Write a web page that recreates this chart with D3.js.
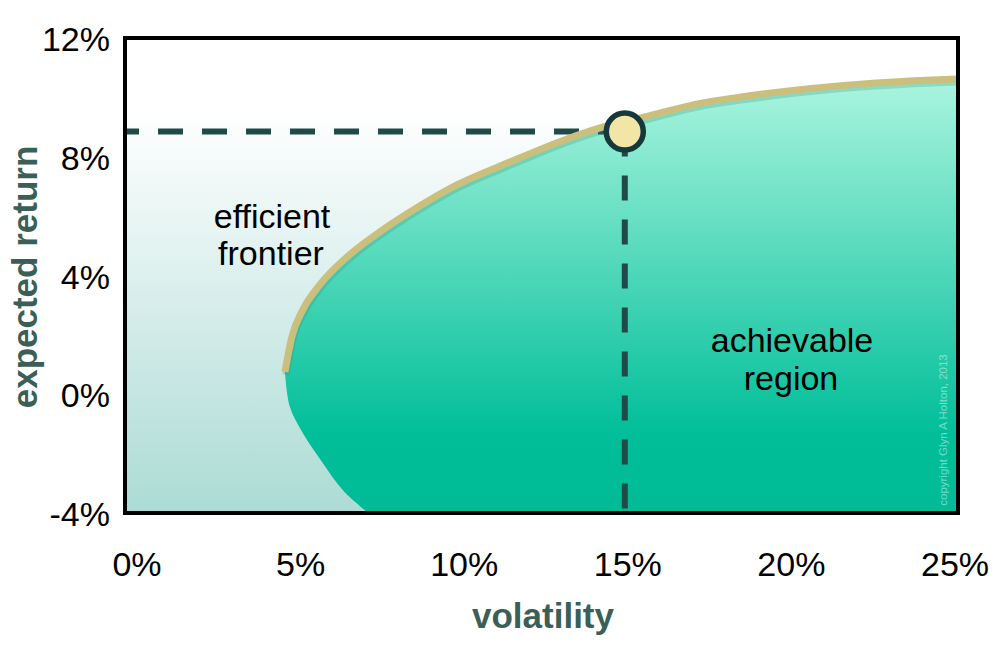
<!DOCTYPE html>
<html>
<head>
<meta charset="utf-8">
<script src="https://cdn.jsdelivr.net/npm/d3@7"></script>
<style>
  body { margin: 0; background: #fff; }
  text { font-family: "Liberation Sans", Arial, sans-serif; }
</style>
</head>
<body>
<div id="chart"></div>
<script>
var svgWidth = 1000;
var svgHeight = 665;

var margin = { top: 38, right: 42, bottom: 152, left: 125 };
var width = svgWidth - margin.left - margin.right;
var height = svgHeight - margin.top - margin.bottom;

// efficient frontier (volatility %, expected return %)
var frontierVol = [4.8, 5.01, 5.34, 5.85, 6.66, 7.65, 8.76, 9.96, 11.55, 13.27, 14.26, 15.6, 17.26, 18.4, 22.45, 25.0];
var frontierRet = [0.75, 1.94, 2.85, 3.69, 4.62, 5.47, 6.28, 7.05, 7.82, 8.6, 8.97, 9.34, 9.8, 10.0, 10.48, 10.62];

// lower edge of the achievable region
var lowerVol = [4.8, 4.95, 5.34, 5.94, 6.54, 7.3];
var lowerRet = [0.75, -0.43, -1.31, -2.32, -3.23, -4.0];

// chosen portfolio
var pointVol = 15;
var pointRet = 8.85;

var xTicks = [0, 5, 10, 15, 20, 25];
var yTicks = [-4, 0, 4, 8, 12];

var svg = d3.select("#chart")
    .append("svg")
    .attr("width", svgWidth)
    .attr("height", svgHeight);

var defs = svg.append("defs");

var bgGrad = defs.append("linearGradient")
    .attr("id", "bgGrad")
    .attr("x1", 0).attr("y1", 0).attr("x2", 0).attr("y2", 1);
bgGrad.append("stop").attr("offset", "0%").attr("stop-color", "#ffffff");
bgGrad.append("stop").attr("offset", "15%").attr("stop-color", "#ffffff");
bgGrad.append("stop").attr("offset", "100%").attr("stop-color", "#acdbd5");

var regionGrad = defs.append("linearGradient")
    .attr("id", "regionGrad")
    .attr("gradientUnits", "userSpaceOnUse")
    .attr("x1", 0).attr("y1", 40).attr("x2", 0).attr("y2", height);
regionGrad.append("stop").attr("offset", "0%").attr("stop-color", "#abf5df");
regionGrad.append("stop").attr("offset", "82%").attr("stop-color", "#00be99");
regionGrad.append("stop").attr("offset", "100%").attr("stop-color", "#00bb96");

var chartGroup = svg.append("g")
    .attr("transform", `translate(${margin.left}, ${margin.top})`);

var x = d3.scaleLinear().domain([0, 25]).range([0, width]);
var y = d3.scaleLinear().domain([-4, 12]).range([height, 0]);
// the tick labels sit slightly off their ticks in the original
var xLabel = d3.scaleLinear().domain([0, 25]).range([12, width - 3]);

// background
chartGroup.append("rect")
    .attr("width", width)
    .attr("height", height)
    .attr("fill", "url(#bgGrad)");

// achievable region: frontier, right edge, bottom, lower edge back up
var frontier = frontierVol.map((v, i) => [v, frontierRet[i]]);
var lower = lowerVol.map((v, i) => [v, lowerRet[i]]);

var line = d3.line()
    .x(d => x(d[0]))
    .y(d => y(d[1]))
    .curve(d3.curveMonotoneX);

var lowerLine = d3.line()
    .x(d => x(d[0]))
    .y(d => y(d[1]))
    .curve(d3.curveCatmullRom);

var regionPath = line(frontier) +
    `L${x(25)},${y(-4)}` +
    lowerLine(lower.slice().reverse()).replace(/^M/, "L") + "Z";

chartGroup.append("path")
    .attr("d", regionPath)
    .attr("fill", "url(#regionGrad)");

// dashed guides to the chosen point
chartGroup.append("line")
    .attr("x1", x(0)).attr("x2", x(pointVol))
    .attr("y1", y(pointRet)).attr("y2", y(pointRet))
    .attr("stroke", "#1f4a48")
    .attr("stroke-width", 6)
    .attr("stroke-dasharray", "25,19")
    .attr("stroke-dashoffset", 11);

chartGroup.append("line")
    .attr("x1", x(pointVol)).attr("x2", x(pointVol))
    .attr("y1", y(pointRet)).attr("y2", y(-4))
    .attr("stroke", "#1f4a48")
    .attr("stroke-width", 6)
    .attr("stroke-dasharray", "25,19");

// frontier shadow + line
chartGroup.append("path")
    .attr("d", line(frontier))
    .attr("transform", "translate(1,3)")
    .attr("fill", "none")
    .attr("stroke", "#2a8f7c")
    .attr("stroke-opacity", 0.25)
    .attr("stroke-width", 7);

chartGroup.append("path")
    .attr("d", line(frontier))
    .attr("fill", "none")
    .attr("stroke", "#cbbf7d")
    .attr("stroke-width", 7);

chartGroup.append("circle")
    .attr("cx", x(pointVol))
    .attr("cy", y(pointRet))
    .attr("r", 18.5)
    .attr("fill", "#f3e5a5")
    .attr("stroke", "#15383a")
    .attr("stroke-width", 5.5);

// frame
chartGroup.append("rect")
    .attr("width", width)
    .attr("height", height)
    .attr("fill", "none")
    .attr("stroke", "#000")
    .attr("stroke-width", 4);

// tick labels
chartGroup.selectAll(".xtick")
    .data(xTicks)
    .enter()
    .append("text")
    .attr("class", "xtick")
    .attr("x", d => xLabel(d))
    .attr("y", height + 63)
    .attr("text-anchor", "middle")
    .style("font-size", "34px")
    .attr("fill", "#000")
    .text(d => d + "%");

chartGroup.selectAll(".ytick")
    .data(yTicks)
    .enter()
    .append("text")
    .attr("class", "ytick")
    .attr("x", -15)
    .attr("y", d => y(d) + 13)
    .attr("text-anchor", "end")
    .style("font-size", "34px")
    .attr("fill", "#000")
    .text(d => d + "%");

// axis titles
svg.append("text")
    .attr("transform", "translate(37, 277) rotate(-90)")
    .attr("text-anchor", "middle")
    .style("font-size", "35px")
    .style("font-weight", "bold")
    .attr("fill", "#3b5f57")
    .text("expected return");

svg.append("text")
    .attr("x", 543)
    .attr("y", 628)
    .attr("text-anchor", "middle")
    .style("font-size", "35px")
    .style("font-weight", "bold")
    .attr("fill", "#3b5f57")
    .text("volatility");

// annotations
var note = svg.append("g").style("font-size", "34px").attr("fill", "#000");
note.append("text").attr("x", 272).attr("y", 228).attr("text-anchor", "middle").text("efficient");
note.append("text").attr("x", 271).attr("y", 265).attr("text-anchor", "middle").text("frontier");
note.append("text").attr("x", 792).attr("y", 352).attr("text-anchor", "middle").text("achievable");
note.append("text").attr("x", 791).attr("y", 390).attr("text-anchor", "middle").text("region");

svg.append("text")
    .attr("transform", "translate(947, 430) rotate(-90)")
    .attr("text-anchor", "middle")
    .style("font-size", "11.5px")
    .attr("fill", "#ffffff")
    .attr("fill-opacity", 0.45)
    .text("copyright Glyn A Holton, 2013");
</script>
</body>
</html>
